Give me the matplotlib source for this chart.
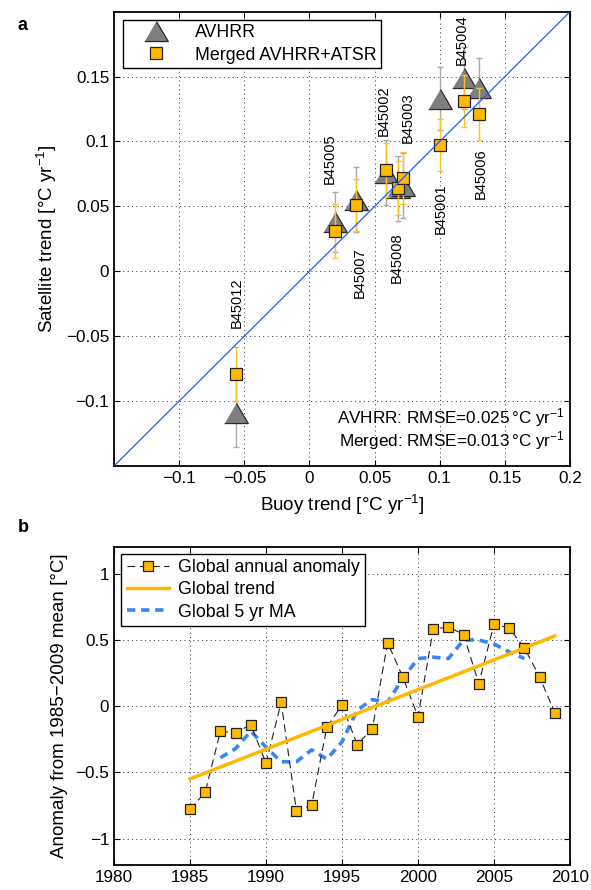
import matplotlib
matplotlib.use("Agg")
import matplotlib.pyplot as plt
import numpy as np

plt.rcParams['font.family'] = ['Liberation Sans', 'DejaVu Sans']
plt.rcParams['mathtext.fontset'] = 'custom'
plt.rcParams['mathtext.rm'] = 'Liberation Sans'
plt.rcParams['mathtext.it'] = 'Liberation Sans:italic'
plt.rcParams['font.size'] = 12

# ---- panel a data: buoy vs satellite trends (degC / yr)
stations = ["B45012", "B45005", "B45007", "B45002", "B45008",
            "B45003", "B45001", "B45004", "B45006"]
buoy_trend = [-0.056, 0.020, 0.036, 0.059, 0.068, 0.072, 0.100, 0.119, 0.130]
avhrr_trend = [-0.109, 0.038, 0.055, 0.076, 0.064, 0.066, 0.133, 0.149, 0.141]
avhrr_err = [0.026, 0.023, 0.025, 0.025, 0.025, 0.025, 0.024, 0.024, 0.023]
merged_trend = [-0.079, 0.031, 0.051, 0.078, 0.064, 0.072, 0.097, 0.131, 0.121]
merged_err = [0.021, 0.021, 0.020, 0.021, 0.021, 0.020, 0.020, 0.020, 0.020]
rmse_avhrr = 0.025
rmse_merged = 0.013

# ---- panel b data: global annual anomaly (degC)
years = list(range(1985, 2010))
anomaly = [-0.78, -0.65, -0.19, -0.20, -0.14, -0.43, 0.03, -0.79, -0.75, -0.16,
           0.01, -0.29, -0.17, 0.48, 0.22, -0.08, 0.58, 0.60, 0.54, 0.17,
           0.62, 0.59, 0.44, 0.22, -0.05]
trend_years = [1985, 2009]
trend_vals = [-0.55, 0.53]
ma_years = list(range(1987, 2008))
ma_vals = [-0.39, -0.32, -0.19, -0.31, -0.42, -0.42, -0.33, -0.40, -0.27, -0.03,
           0.05, 0.03, 0.21, 0.36, 0.37, 0.36, 0.50, 0.50, 0.47, 0.41, 0.36]

orange = '#FFBA00'
gray = '#7F7F7F'
sup = '$^{\\mathregular{-1}}$'

fig = plt.figure(figsize=(5.91, 8.90), dpi=100)

# ================= panel a
ax = fig.add_axes([0.1929, 0.4764, 0.7716, 0.5105])
tri = [(-1, -0.85), (1, -0.85), (0, 0.85)]

ax.errorbar(buoy_trend, avhrr_trend, yerr=avhrr_err, fmt='none',
            ecolor='#A9A9A9', elinewidth=1, capsize=2.2, zorder=2)
ax.plot(buoy_trend, avhrr_trend, linestyle='none', marker=tri, markersize=17,
        markerfacecolor=gray, markeredgecolor='#2a2a2a', markeredgewidth=0.9,
        label='AVHRR', zorder=3)
ax.errorbar(buoy_trend, merged_trend, yerr=merged_err, fmt='none',
            ecolor='#FFC21A', elinewidth=1, capsize=2.2, zorder=4)
ax.plot(buoy_trend, merged_trend, linestyle='none', marker='s', markersize=9,
        markerfacecolor=orange, markeredgecolor='#222222', markeredgewidth=0.9,
        label='Merged AVHRR+ATSR', zorder=5)
ax.axline((0, 0), slope=1, color='#1F5EF5', linewidth=0.9, zorder=6)

# station labels: (x, y, vertical anchor)
label_pos = [(-0.0557, -0.0435, 'bottom'), (0.0158, 0.0674, 'bottom'),
             (0.0383, 0.0185, 'top'), (0.0574, 0.104, 'bottom'),
             (0.0672, 0.0297, 'top'), (0.0753, 0.0988, 'bottom'),
             (0.1008, 0.0674, 'top'), (0.1169, 0.1587, 'bottom'),
             (0.1315, 0.0944, 'top')]
for name, (lx, ly, va) in zip(stations, label_pos):
    ax.text(lx, ly, name, rotation=90, ha='center', va=va, fontsize=10.5)

ax.set_xlim(-0.15, 0.2)
ax.set_ylim(-0.15, 0.2)
xt = [-0.1, -0.05, 0, 0.05, 0.1, 0.15, 0.2]
yt = [-0.1, -0.05, 0, 0.05, 0.1, 0.15]
ax.set_xticks(xt)
ax.set_xticklabels(['\u22120.1', '\u22120.05', '0', '0.05', '0.1', '0.15', '0.2'])
ax.set_yticks(yt)
ax.set_yticklabels(['\u22120.1', '\u22120.05', '0', '0.05', '0.1', '0.15'])
ax.grid(True, linestyle=(0, (1, 3.5)), color='#333333', linewidth=0.7)
ax.set_xlabel('Buoy trend [°C yr' + sup + ']', fontsize=13.5, labelpad=5)
ax.set_ylabel('Satellite trend [°C yr' + sup + ']', fontsize=13.5, labelpad=5)

ax.text(0.196, -0.113,
        'AVHRR: RMSE=%.3f$\\,$°C yr' % rmse_avhrr + sup,
        ha='right', va='center', fontsize=12.3, zorder=7)
ax.text(0.196, -0.1306,
        'Merged: RMSE=%.3f$\\,$°C yr' % rmse_merged + sup,
        ha='right', va='center', fontsize=12.3, zorder=7)

leg = ax.legend(loc='upper left', bbox_to_anchor=(0.019, 0.982), fancybox=False,
                edgecolor='black', framealpha=1, handlelength=3.2,
                borderaxespad=0, fontsize=12.8, borderpad=0.25, labelspacing=0.3,
                handletextpad=0.6)
leg.get_frame().set_linewidth(1.0)

# ================= panel b
bx = fig.add_axes([0.1929, 0.0281, 0.7716, 0.3569])
bx.plot(years, anomaly, linestyle=(0, (7, 4)), color='#222222', linewidth=0.8,
        marker='s', markersize=7, markerfacecolor=orange,
        markeredgecolor='#222222', markeredgewidth=0.9,
        label='Global annual anomaly', zorder=3)
bx.plot(trend_years, trend_vals, color='#FFB700', linewidth=2.5,
        label='Global trend', zorder=4)
bx.plot(ma_years, ma_vals, color='#3A86EE', linewidth=2.6,
        linestyle=(0, (2.3, 1.6)), label='Global 5 yr MA', zorder=2)

bx.set_xlim(1980, 2010)
bx.set_ylim(-1.2, 1.2)
bx.set_xticks([1980, 1985, 1990, 1995, 2000, 2005, 2010])
bx.set_yticks([-1, -0.5, 0, 0.5, 1])
bx.set_yticklabels(['\u22121', '\u22120.5', '0', '0.5', '1'])
bx.grid(True, linestyle=(0, (1, 3.5)), color='#333333', linewidth=0.7)
bx.set_ylabel('Anomaly from 1985\u22122009 mean [°C]', fontsize=13.5, labelpad=5)

leg2 = bx.legend(loc='upper left', bbox_to_anchor=(0.016, 0.98), fancybox=False,
                 edgecolor='black', framealpha=1, handlelength=2.4,
                 borderaxespad=0, fontsize=12.8, borderpad=0.3,
                 labelspacing=0.3, handletextpad=0.5)
leg2.get_frame().set_linewidth(1.0)

for a in (ax, bx):
    a.tick_params(direction='in', top=True, right=True, length=4, width=0.8,
                  labelsize=12.3)
    for s in a.spines.values():
        s.set_linewidth(1.3)

fig.text(18 / 591, 1 - 25 / 890, 'a', fontsize=13, fontweight='bold',
         ha='left', va='center')
fig.text(18 / 591, 1 - 527 / 890, 'b', fontsize=13, fontweight='bold',
         ha='left', va='center')

fig.savefig('out.png', dpi=100)
